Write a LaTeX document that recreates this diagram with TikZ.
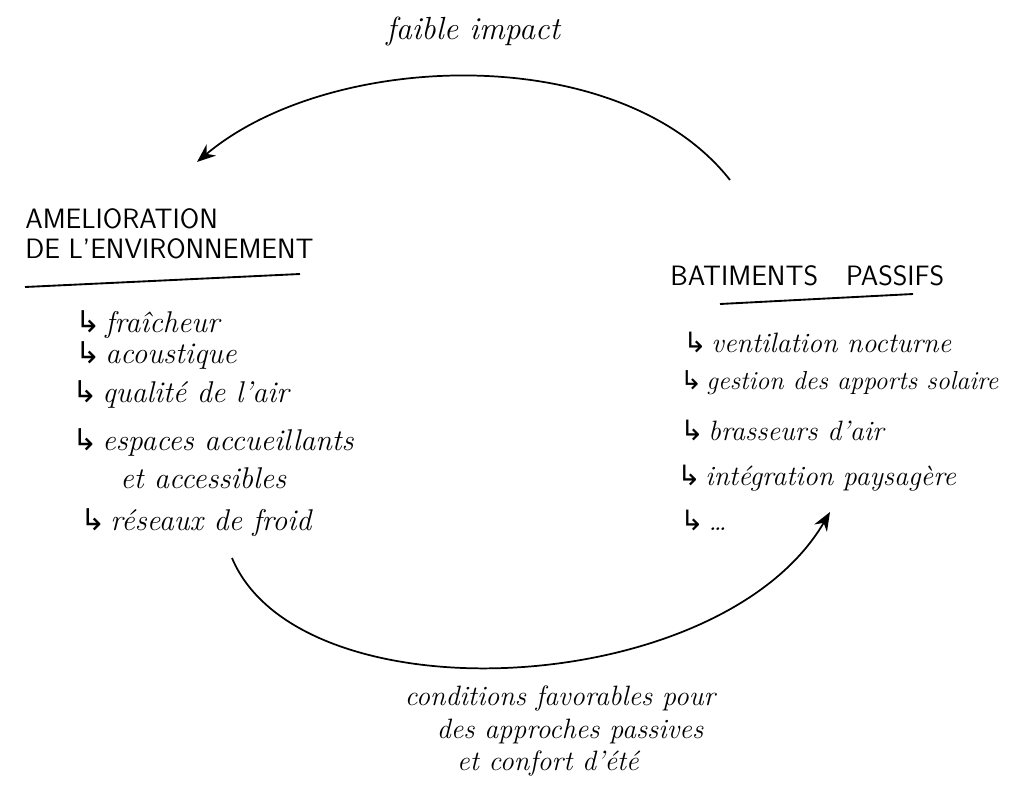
\documentclass[tikz,border=0pt]{standalone}
\usepackage{fontspec}
\newfontfamily\symf{DejaVu Sans}
\usetikzlibrary{arrows.meta}
\newcommand{\hookarrow}{{\symf\char"21B3}\,}
\begin{document}
\begin{tikzpicture}[x=0.75pt,y=-0.75pt,
 hand/.style={font=\itshape\fontsize{21}{24}\selectfont, anchor=base west, inner sep=0},
 handl/.style={hand, font=\itshape\fontsize{22.5}{26}\selectfont},
 caps/.style={font=\sffamily\fontsize{21}{24}\selectfont, anchor=base west, inner sep=0},
 flow/.style={line width=1.3pt, -{Stealth[length=14pt,width=11pt]}},
 rulebar/.style={line width=1.4pt}]
\useasboundingbox (0,0) rectangle (1016,799);
% top label
\node[hand, font=\itshape\fontsize{24}{28}\selectfont] (top) at (386,40) {faible impact};
% left block
\node[caps] (l1) at (25,228) {AMELIORATION};
\node[caps] (l2) at (25,258) {DE L'ENVIRONNEMENT};
\coordinate (lu1) at (25,287);
\coordinate (lu2) at (300,274);
\draw[rulebar] (lu1) -- (lu2);
\node[handl] (a1) at (75,332) {\hookarrow fraîcheur};
\node[handl] (a2) at (75,363) {\hookarrow acoustique};
\node[handl] (a3) at (72,402) {\hookarrow qualité de l'air};
\node[handl] (a4) at (72,450) {\hookarrow espaces accueillants};
\node[handl] (a5) at (120,488) {et accessibles};
\node[handl] (a6) at (80,530) {\hookarrow réseaux de froid};
% right block
\node[caps] (r0) at (670,285) {BATIMENTS\quad PASSIFS};
\coordinate (ru1) at (720,304);
\coordinate (ru2) at (913,294);
\draw[rulebar] (ru1) -- (ru2);
\node[hand] (b1) at (683,352) {\hookarrow ventilation nocturne};
\node[hand, font=\itshape\fontsize{19.5}{22}\selectfont] (b2) at (680,389) {\hookarrow gestion des apports solaire};
\node[hand] (b3) at (680,440) {\hookarrow brasseurs d'air};
\node[hand] (b4) at (677,485) {\hookarrow intégration paysagère};
\node[hand] (b5) at (680,530) {\hookarrow \dots};
% bottom label
\node[hand, anchor=base] (c1) at (560,705) {conditions favorables pour};
\node[hand, anchor=base] (c2) at (570,738) {des approches passives};
\node[hand, anchor=base] (c3) at (548,770) {et confort d'été};
% arcs
\coordinate (ts) at (730,180);
\coordinate (te) at (197,162);
\draw[flow] (ts) .. controls (620,40) and (330,50) .. (te);
\coordinate (bs) at (232,558);
\coordinate (be) at (830,512);
\draw[flow] (bs) .. controls (300,720) and (720,700) .. (be);
\end{tikzpicture}
\end{document}
